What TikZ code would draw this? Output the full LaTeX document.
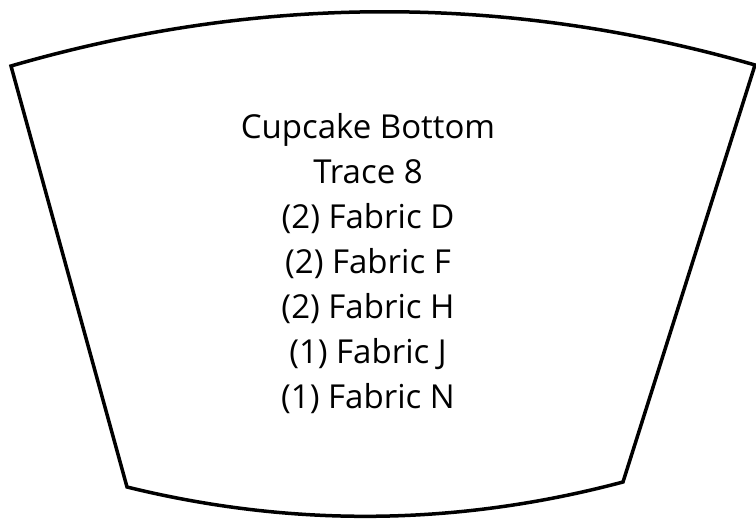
\documentclass[tikz,border=0pt]{standalone}
\usepackage{fontspec}
\setmainfont{Open Sans}
\begin{document}
\begin{tikzpicture}[x=1pt,y=-1pt,
  outline/.style={draw=black,line width=3.5pt,line join=miter},
  label/.style={align=center,inner sep=0pt,font=\fontsize{33}{45}\selectfont}]
\useasboundingbox (0,0) rectangle (756,519);
\coordinate (tl) at (11,66);
\coordinate (tr) at (755,65);
\coordinate (br) at (623,482);
\coordinate (bl) at (127,487);
\draw[outline] (tl) .. controls (259,-6) and (507,-6.3) .. (tr) -- (br)
  .. controls (457.7,526) and (292.3,527.7) .. (bl) -- cycle;
\node[label,anchor=base] (txt) at (368,408) {Cupcake Bottom\\Trace 8\\(2) Fabric D\\(2) Fabric F\\(2) Fabric H\\(1) Fabric J\\(1) Fabric N};
\end{tikzpicture}
\end{document}
